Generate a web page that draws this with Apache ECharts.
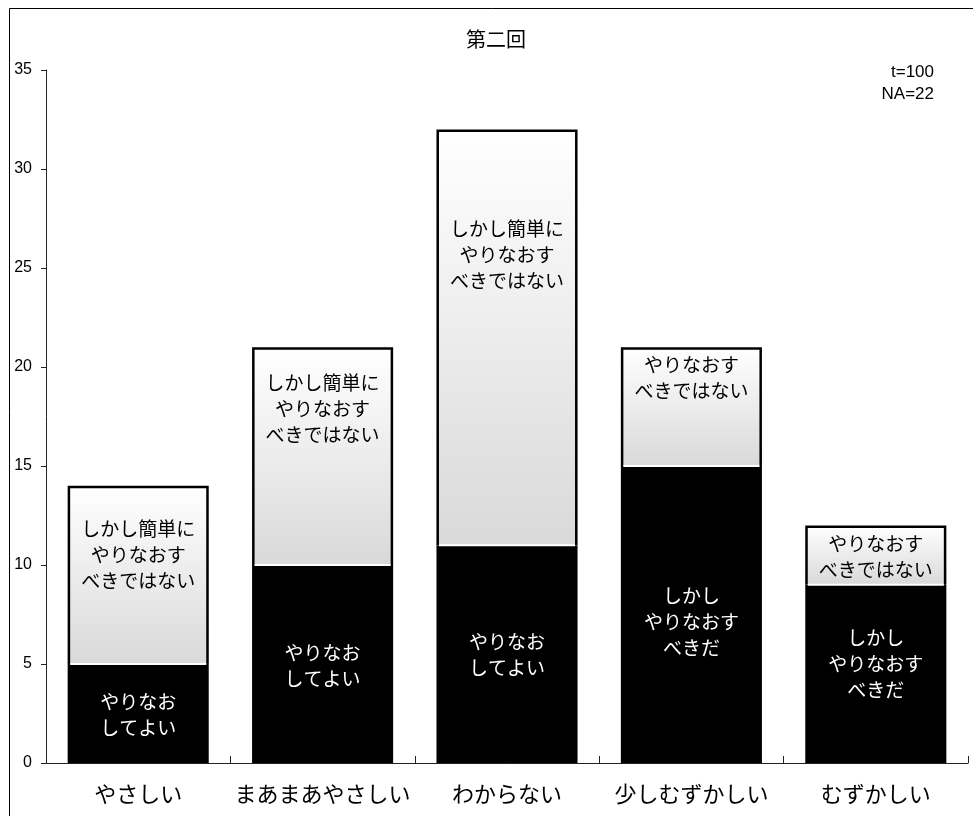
<!DOCTYPE html>
<html><head><meta charset="utf-8">
<script src="https://cdn.jsdelivr.net/npm/echarts@6/dist/echarts.min.js"></script>
<style>html,body{margin:0;padding:0;background:#fff}#c{width:973px;height:816px}</style>
</head><body><div id="c"></div>
<script>
const categories = ['やさしい', 'まあまあやさしい', 'わからない', '少しむずかしい', 'むずかしい'];
const bottomValues = [5, 10, 11, 15, 9];
const topValues = [9, 11, 21, 6, 3];
const bottomLabels = ['やりなお\nしてよい', 'やりなお\nしてよい', 'やりなお\nしてよい', 'しかし\nやりなおす\nべきだ', 'しかし\nやりなおす\nべきだ'];
const topLabels = ['しかし簡単に\nやりなおす\nべきではない', 'しかし簡単に\nやりなおす\nべきではない', 'しかし簡単に\nやりなおす\nべきではない', 'やりなおす\nべきではない', 'やりなおす\nべきではない'];
const topLabelOffsets = [30, 23, 86, 5, 5];
const bottomLabelShift = [1, 2, 1, 7, -10];
const yTicks = [0, 5, 10, 15, 20, 25, 30, 35];
const titleText = '第二回';
const noteLines = ['t=100', 'NA=22'];

const JP = '"Noto Sans CJK JP", "Noto Sans", sans-serif';
const NUM = '"Liberation Sans", Arial, sans-serif';
const BAR_W = 0.765;

const chart = echarts.init(document.getElementById('c'), null, {renderer: 'canvas'});
chart.setOption({
  animation: false,
  backgroundColor: '#fff',
  graphic: [
    {type: 'rect', shape: {x: 9.5, y: 8.5, width: 1000, height: 900}, style: {fill: 'none', stroke: '#000', lineWidth: 1}, silent: true, z: 100},
    {type: 'text', x: 496, y: 29, style: {text: titleText, textAlign: 'center', font: '20px ' + JP, fill: '#000'}},
    {type: 'text', x: 934, y: 61, style: {text: noteLines.join('\n'), textAlign: 'right', align: 'right', font: '17px ' + NUM, lineHeight: 22, fill: '#000'}}
  ],
  grid: {left: 46, right: 5, top: 70, bottom: 53, containLabel: false},
  xAxis: {
    type: 'category', data: categories,
    axisLine: {lineStyle: {color: '#222', width: 1}},
    axisTick: {show: true, inside: true, length: 7, interval: 0, lineStyle: {color: '#222'}},
    axisLabel: {fontFamily: JP, fontSize: 22, color: '#000', margin: 20, interval: 0}
  },
  yAxis: {
    type: 'value', min: 0, max: 35, interval: 5,
    splitLine: {show: false},
    axisLine: {show: true, lineStyle: {color: '#222', width: 1}},
    axisTick: {show: true, length: 5, lineStyle: {color: '#222'}},
    axisLabel: {fontFamily: NUM, fontSize: 16, color: '#000', margin: 14,
      formatter: v => yTicks.includes(v) ? String(v) : ''}
  },
  series: [
    {
      type: 'bar', stack: 's', barWidth: (BAR_W * 100) + '%', z: 2,
      data: bottomValues.map((v, i) => ({value: v, label: {formatter: bottomLabels[i], offset: [0, bottomLabelShift[i]]}})),
      itemStyle: {color: '#000', borderWidth: 0},
      label: {show: true, position: 'inside', color: '#fff', fontFamily: JP, fontSize: 19, lineHeight: 26}
    },
    {
      type: 'bar', stack: 's', barWidth: (BAR_W * 100) + '%', z: 2,
      data: topValues.map((v, i) => ({value: v, label: {formatter: topLabels[i], distance: topLabelOffsets[i]}})),
      itemStyle: {
        color: {type: 'linear', x: 0, y: 0, x2: 0, y2: 1, colorStops: [{offset: 0, color: '#ffffff'}, {offset: 1, color: '#d9d9d9'}]},
        borderWidth: 0
      },
      label: {show: true, position: 'insideTop', color: '#000', fontFamily: JP, fontSize: 19, lineHeight: 26}
    },
    {
      type: 'custom', z: 5, silent: true,
      data: bottomValues.map((b, i) => [i, b, topValues[i]]),
      encode: {x: 0, y: 1},
      renderItem: (params, api) => {
        const i = api.value(0), b = api.value(1), t = api.value(2);
        const base = api.coord([i, b]);
        const top = api.coord([i, b + t]);
        const w = api.size([1, 0])[0] * BAR_W;
        const x0 = base[0] - w / 2, x1 = base[0] + w / 2;
        const lw = 2.5, h = lw / 2;
        return {type: 'group', children: [
          {type: 'polyline', shape: {points: [[x0 + h, base[1]], [x0 + h, top[1] + h], [x1 - h, top[1] + h], [x1 - h, base[1]]]},
            style: {stroke: '#000', lineWidth: lw, fill: null, lineJoin: 'miter'}},
          {type: 'line', shape: {x1: x0 + lw, y1: base[1], x2: x1 - lw, y2: base[1]},
            style: {stroke: '#fff', lineWidth: 2}}
        ]};
      }
    }
  ]
});
</script></body></html>
